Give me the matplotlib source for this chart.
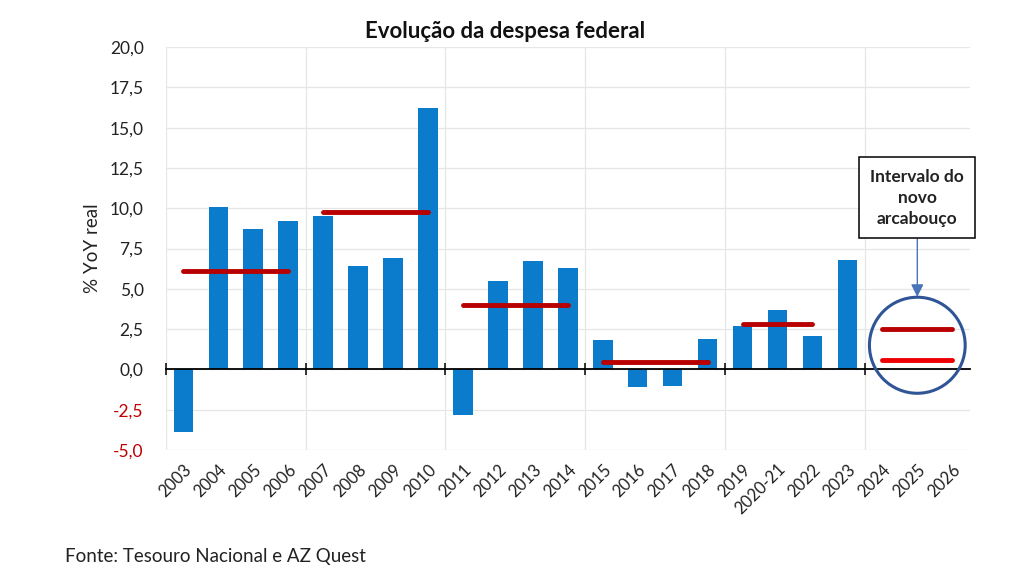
import matplotlib
matplotlib.use("Agg")
import matplotlib.pyplot as plt
from matplotlib.patches import Ellipse

plt.rcParams['font.family'] = ['Lato', 'DejaVu Sans']

categories = ["2003", "2004", "2005", "2006", "2007", "2008", "2009", "2010",
              "2011", "2012", "2013", "2014", "2015", "2016", "2017", "2018",
              "2019", "2020-21", "2022", "2023", "2024", "2025", "2026"]
values = [-3.9, 10.1, 8.7, 9.2, 9.5, 6.4, 6.9, 16.2,
          -2.8, 5.5, 6.7, 6.3, 1.8, -1.1, -1.0, 1.9,
          2.7, 3.7, 2.1, 6.8, None, None, None]

# period averages: (first category, last category, value)
avg_starts = ["2003", "2007", "2011", "2015", "2019", "2024"]
avg_ends = ["2006", "2010", "2014", "2018", "2022", "2026"]
avg_values = [6.1, 9.8, 4.0, 0.45, 2.85, 2.5]
# lower bound of the new framework
lower_start, lower_end, lower_value = "2024", "2026", 0.6

yticks = [-5.0, -2.5, 0.0, 2.5, 5.0, 7.5, 10.0, 12.5, 15.0, 17.5, 20.0]

fig = plt.figure(figsize=(10.24, 5.75), dpi=100)
ax = fig.add_axes([0.162, 0.2174, 0.785, 0.7006])

idx = {c: i for i, c in enumerate(categories)}
xs = [i for i, v in enumerate(values) if v is not None]
vs = [v for v in values if v is not None]
ax.bar(xs, vs, width=0.56, color="#0A7CCB", zorder=3)

ax.set_xlim(-0.5, len(categories) - 0.5)
ax.set_ylim(-5, 20)

# gridlines
for y in yticks:
    ax.axhline(y, color="#E6E6E6", lw=0.9, zorder=0)
boundaries = [i - 0.5 for i in range(0, len(categories), 4)]
for b in boundaries:
    ax.axvline(b, color="#E6E6E6", lw=0.9, zorder=0)

for s in ax.spines.values():
    s.set_visible(False)

ax.set_yticks(yticks)
ax.set_yticklabels([f"{y:.1f}".replace(".", ",") for y in yticks], fontsize=12.5)
for lab, y in zip(ax.get_yticklabels(), yticks):
    lab.set_color("#C00000" if y < 0 else "#222222")
ax.tick_params(axis="y", length=0, pad=16)

ax.set_xticks(range(len(categories)))
ax.set_xticklabels(categories, rotation=45, ha="right", rotation_mode="anchor", fontsize=12, color="#222222")
ax.tick_params(axis="x", length=0, pad=8)

# zero axis line with boundary ticks
sec = ax.secondary_xaxis(0.2)
sec.set_xticks(boundaries)
sec.set_xticklabels([])
sec.tick_params(axis="x", direction="inout", length=8, width=1.1, color="black")
sec.spines["bottom"].set_color("black")
sec.spines["bottom"].set_linewidth(1.3)
sec.set_zorder(4)

ax.set_ylabel("% YoY real", fontsize=13.5, color="#222222", labelpad=6)

# period averages
for a, b, v in zip(avg_starts, avg_ends, avg_values):
    ax.plot([idx[a], idx[b]], [v, v], color="#B80000", lw=3.5, solid_capstyle="round", zorder=5)
ax.plot([idx[lower_start], idx[lower_end]], [lower_value, lower_value], color="#EE0000",
        lw=3.5, solid_capstyle="round", zorder=5)

# circle around framework range
cx = idx["2025"]
circ = Ellipse((cx, 1.5), width=2.74, height=5.96, fill=False, ec="#2F5597", lw=2.2,
               zorder=6, clip_on=False)
ax.add_patch(circ)

ax.annotate("Intervalo do\nnovo\narcabouço", xy=(cx, 4.5), xytext=(cx, 10.65),
            ha="center", va="center", fontsize=12.5, fontweight="bold", color="#222222",
            linespacing=1.4,
            bbox=dict(boxstyle="square,pad=0.65", fc="white", ec="black", lw=1.1),
            arrowprops=dict(arrowstyle="-|>,head_length=0.6,head_width=0.3", color="#4A74B8", lw=1.0,
                            shrinkA=0, shrinkB=0),
            zorder=7, annotation_clip=False)

fig.text(0.493, 0.945, "Evolução da despesa federal", ha="center", va="center",
         fontsize=16, fontweight="bold", color="#111111")
fig.text(0.063, 0.033, "Fonte: Tesouro Nacional e AZ Quest", ha="left", va="center",
         fontsize=13.5, color="#222222")

fig.savefig("out.png", dpi=100)
